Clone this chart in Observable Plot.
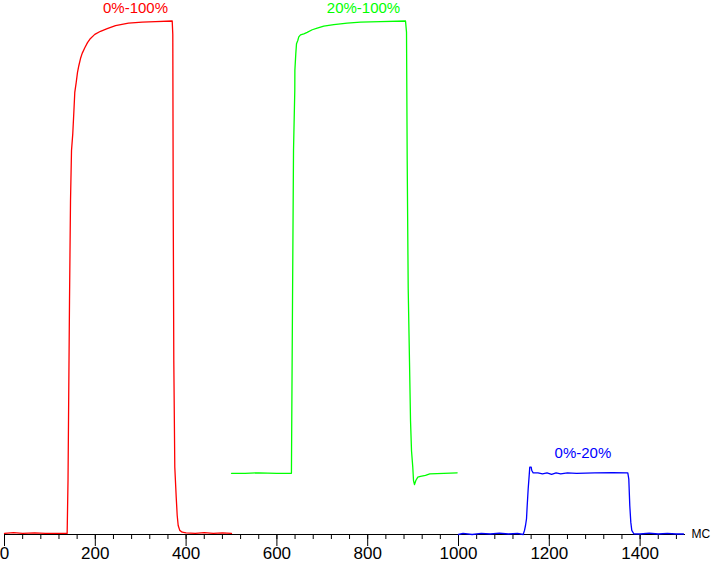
<!DOCTYPE html>
<html>
<head>
<meta charset="utf-8">
<script src="https://cdn.jsdelivr.net/npm/d3@7"></script>
<script src="https://cdn.jsdelivr.net/npm/@observablehq/plot@0.6"></script>
<style>
  html, body { margin: 0; padding: 0; background: #fff; }
  #chart svg { display: block; }
</style>
</head>
<body>
<div id="chart"></div>
<script>
// Response curves: time in ms, level in % of full scale
const redMs = [0, 20, 40, 66, 90, 115, 138, 139.9, 141, 143.2, 145.4, 147.6, 150.4, 152.6, 154.8, 157.9, 160.8, 163.7, 167.4, 171.1, 176.9, 182.8, 189.4, 198.9, 211.5, 226.2, 244.5, 273.1, 303.3, 332.6, 369.4, 370.7, 371.6, 372.9, 375.1, 378.2, 380.4, 382.6, 386.1, 391.4, 400, 420, 440, 460, 480, 500];
const redLevel = [0.2, 0.35, 0.2, 0.3, 0.2, 0.2, 0.2, 10.5, 22.2, 45.5, 65, 74.7, 78, 81.9, 86, 87.9, 89.9, 91.2, 92.6, 93.6, 94.7, 95.7, 96.5, 97.3, 97.9, 98.4, 99, 99.5, 99.7, 99.8, 99.9, 97.3, 65, 33.9, 13.1, 7.3, 3.7, 1.75, 0.8, 0.45, 0.3, 0.2, 0.35, 0.2, 0.3, 0.2];

const greenMs = [500, 530, 560, 600, 632, 634.4, 636.6, 639.4, 639.6, 641.6, 643.2, 646, 648.2, 652, 659.3, 666.7, 677.8, 688.8, 703.3, 725.3, 754.8, 784.1, 828.2, 883.3, 885.5, 887, 889.2, 892.1, 894.3, 896.5, 899.3, 900.9, 903.1, 906, 910.4, 916.3, 927.3, 936.8, 967.6, 997];
const greenLevel = [11.9, 11.9, 12.0, 11.9, 11.9, 45.5, 74.7, 86.4, 90.3, 93.5, 95.5, 96.1, 96.8, 97.2, 97.4, 97.7, 98.2, 98.5, 98.9, 99.2, 99.5, 99.7, 99.8, 99.9, 97.7, 72.8, 47.9, 33.5, 22.2, 16.3, 13.1, 10.5, 9.7, 10.5, 11.15, 11.3, 11.5, 11.8, 11.9, 12.0];

const blueMs = [1000, 1010, 1030, 1050, 1070, 1090, 1110, 1130, 1142.5, 1145.4, 1147.6, 1149.8, 1151.3, 1153.5, 1155.7, 1157, 1160.1, 1161.4, 1164.5, 1175, 1185, 1195, 1205, 1215, 1225, 1240, 1260, 1300, 1340, 1372.9, 1375.1, 1377.3, 1379.5, 1381.7, 1386.1, 1400, 1420, 1440, 1460, 1480, 1495.6];
const blueLevel = [0, 0.2, 0, 0.2, 0.1, 0.25, 0.1, 0.2, 0, 0.8, 1.75, 3.05, 5.6, 8.9, 11.5, 13.1, 13.1, 12.45, 12.0, 12.0, 11.8, 12.0, 11.7, 12.0, 11.8, 12.0, 11.9, 12.0, 12.05, 12.0, 10.8, 5.6, 2.4, 0.8, 0.15, 0.1, 0.25, 0.1, 0.2, 0.1, 0.1];

const seriesNames = ["0%-100%", "20%-100%", "0%-20%"];
const seriesColors = ["#ff0000", "#00ff00", "#0000ff"];
const labelMs = [288.5, 790.7, 1274];
const labelLevel = [100, 100, 12];

const majorTicks = [0, 200, 400, 600, 800, 1000, 1200, 1400];
const minorTicks = d3.range(0, 1500, 40);
const unitLabel = "МС";

const toRows = (xs, ys) => xs.map((x, i) => ({x, y: ys[i]}));
const red = toRows(redMs, redLevel);
const green = toRows(greenMs, greenLevel);
const blue = toRows(blueMs, blueLevel);
const labels = seriesNames.map((t, i) => ({text: t, x: labelMs[i], y: labelLevel[i], color: seriesColors[i], dy: i === 2 ? -20 : -12}));

const chart = Plot.plot({
  width: 711,
  height: 562,
  marginTop: 20,
  marginBottom: 28,
  marginLeft: 4,
  marginRight: 26,
  x: {domain: [0, 1500]},
  y: {domain: [0, 100], axis: null},
  style: {fontFamily: "'Liberation Sans', Arial, sans-serif", background: "#fff", overflow: "visible"},
  marks: [
    Plot.axisX({ticks: minorTicks, tickSize: 5, text: null, label: null, stroke: "#000"}),
    Plot.axisX({ticks: majorTicks, tickSize: 12, tickPadding: 0, label: null, fontSize: 17, tickFormat: d => String(d), stroke: "#000", fill: "#000"}),
    Plot.ruleY([0], {stroke: "#000"}),
    Plot.line(red, {x: "x", y: "y", stroke: seriesColors[0], strokeWidth: 1.3}),
    Plot.line(green, {x: "x", y: "y", stroke: seriesColors[1], strokeWidth: 1.3}),
    Plot.line(blue, {x: "x", y: "y", stroke: seriesColors[2], strokeWidth: 1.3}),
    ...labels.map(l => Plot.text([l], {x: "x", y: "y", text: "text", fill: l.color, dy: l.dy, fontSize: 15, textAnchor: "middle", lineAnchor: "middle"})),
    Plot.text([unitLabel], {frameAnchor: "bottom-right", text: d => d, dx: 6, textAnchor: "start", lineAnchor: "middle", fontSize: 12, fill: "#000"})
  ]
});
document.getElementById("chart").append(chart);
</script>
</body>
</html>
